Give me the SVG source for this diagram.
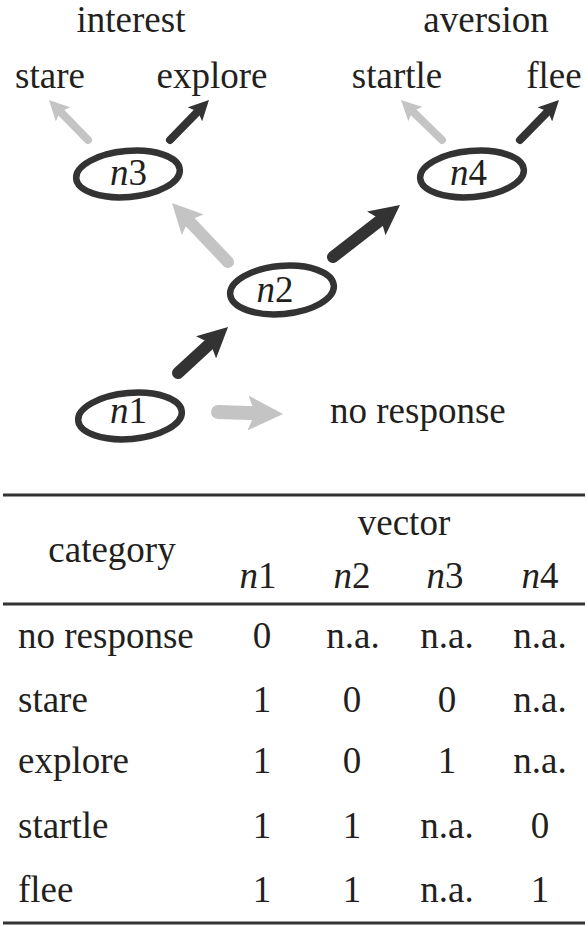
<svg xmlns="http://www.w3.org/2000/svg" width="588" height="927" viewBox="0 0 588 927" font-family="'Liberation Serif', 'DejaVu Serif', serif">
<style>
text{font-family:'Liberation Serif','DejaVu Serif','Times New Roman',serif;font-size:37px;fill:#231f20}
.c{text-anchor:middle}
.i{font-style:italic}
.node{fill:none;stroke:#333;stroke-width:6.5}
.dk{stroke:#333;fill:none;stroke-linecap:round}
.gy{stroke:#c4c4c4;fill:none;stroke-linecap:round}
.rule{stroke:#333;stroke-width:3}
</style>
<defs>
<marker id="hd" viewBox="0 0 10 10" markerWidth="2.5" markerHeight="2.5" refX="4" refY="5" orient="auto" markerUnits="strokeWidth">
<path d="M0,0 L10,5 L0,10 L2,5 z" fill="#333"/>
</marker>
<marker id="hg" viewBox="0 0 10 10" markerWidth="2.5" markerHeight="2.5" refX="4" refY="5" orient="auto" markerUnits="strokeWidth">
<path d="M0,0 L10,5 L0,10 L2,5 z" fill="#c4c4c4"/>
</marker>
</defs>

<g id="group-labels">
<text class="c" x="131" y="32">interest</text>
<text class="c" x="486" y="32">aversion</text>
<text class="c" x="50" y="88">stare</text>
<text class="c" x="212" y="88">explore</text>
<text class="c" x="397" y="88">startle</text>
<text class="c" x="554" y="88">flee</text>
<text x="330" y="423">no response</text>
</g>

<g id="connectors">
<line class="dk" x1="178" y1="373" x2="214.8" y2="339.2" stroke-width="12" marker-end="url(#hd)"/>
<line class="dk" x1="333" y1="257" x2="385.8" y2="216" stroke-width="12" marker-end="url(#hd)"/>
<line class="gy" x1="228" y1="262" x2="184.4" y2="216.1" stroke-width="12" marker-end="url(#hg)"/>
<line class="gy" x1="218" y1="412" x2="262" y2="413.4" stroke-width="14" marker-end="url(#hg)"/>
<line class="gy" x1="88" y1="140" x2="57.4" y2="108.6" stroke-width="8" marker-end="url(#hg)"/>
<line class="dk" x1="170" y1="140" x2="200.6" y2="108.6" stroke-width="8" marker-end="url(#hd)"/>
<line class="gy" x1="442" y1="140" x2="409.6" y2="108.4" stroke-width="8" marker-end="url(#hg)"/>
<line class="dk" x1="520" y1="140" x2="550.6" y2="108.6" stroke-width="8" marker-end="url(#hd)"/>
</g>

<g id="n1">
<ellipse class="node" cx="130" cy="416" rx="52" ry="23" transform="rotate(-5 130 416)"/>
<text class="c" x="128.5" y="423"><tspan class="i">n</tspan>1</text>
</g>
<g id="n2">
<ellipse class="node" cx="282" cy="290" rx="52" ry="24" transform="rotate(-5 282 290)"/>
<text class="c" x="275" y="302"><tspan class="i">n</tspan>2</text>
</g>
<g id="n3">
<ellipse class="node" cx="128" cy="174" rx="52" ry="23" transform="rotate(-5 128 174)"/>
<text class="c" x="128.5" y="185"><tspan class="i">n</tspan>3</text>
</g>
<g id="n4">
<ellipse class="node" cx="472" cy="174" rx="52" ry="23" transform="rotate(-5 472 174)"/>
<text class="c" x="468.5" y="185"><tspan class="i">n</tspan>4</text>
</g>

<g id="table">
<line class="rule" x1="3" y1="495" x2="585" y2="495"/>
<line class="rule" x1="3" y1="604" x2="585" y2="604"/>
<line class="rule" x1="3" y1="923" x2="585" y2="923"/>
<text class="c" x="112" y="562">category</text>
<text class="c" x="404" y="535">vector</text>
<text class="c" x="258" y="588"><tspan class="i">n</tspan>1</text>
<text class="c" x="352" y="588"><tspan class="i">n</tspan>2</text>
<text class="c" x="445" y="588"><tspan class="i">n</tspan>3</text>
<text class="c" x="540" y="588"><tspan class="i">n</tspan>4</text>

<text x="18" y="648">no response</text>
<text class="c" x="262" y="648">0</text>
<text class="c" x="353" y="648">n.a.</text>
<text class="c" x="447" y="648">n.a.</text>
<text class="c" x="540" y="648">n.a.</text>

<text x="18" y="712">stare</text>
<text class="c" x="262" y="712">1</text>
<text class="c" x="352" y="712">0</text>
<text class="c" x="447" y="712">0</text>
<text class="c" x="540" y="712">n.a.</text>

<text x="18" y="773">explore</text>
<text class="c" x="262" y="773">1</text>
<text class="c" x="352" y="773">0</text>
<text class="c" x="447" y="773">1</text>
<text class="c" x="540" y="773">n.a.</text>

<text x="18" y="838">startle</text>
<text class="c" x="262" y="838">1</text>
<text class="c" x="352" y="838">1</text>
<text class="c" x="447" y="838">n.a.</text>
<text class="c" x="540" y="838">0</text>

<text x="18" y="902">flee</text>
<text class="c" x="262" y="902">1</text>
<text class="c" x="352" y="902">1</text>
<text class="c" x="447" y="902">n.a.</text>
<text class="c" x="540" y="902">1</text>
</g>
</svg>
